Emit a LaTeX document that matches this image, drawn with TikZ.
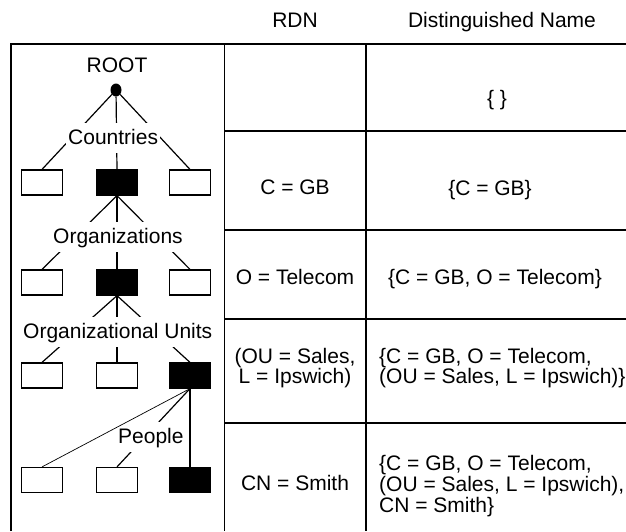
\documentclass[tikz,border=0pt]{standalone}
\usepackage{fontspec}
\setmainfont{Liberation Sans}
\usetikzlibrary{shapes.geometric}
\begin{document}
\begin{tikzpicture}  % ------ L'arbre des noms et le tableau ------------------
      [x=1pt,y=-1pt,font=\fontsize{21}{18.5}\selectfont,
       trait/.style={line width=1.2pt},
       feuille/.style={draw,line width=1.2pt,minimum width=41pt,minimum height=25pt,inner sep=0pt},
       noire/.style={feuille,fill=black},
       etiq/.style={fill=white,anchor=base west,inner xsep=2pt,inner ysep=6pt,text height=15pt,text depth=3pt},
       case/.style={inner sep=0pt,anchor=base}]
    \useasboundingbox (0,0) rectangle (626,531);
    \clip (0,0) rectangle (626,531);
    % le tableau
    \draw [trait] (11,531)--(11,44)--(640,44);
    \draw [trait] (224.5,44)--(224.5,531);
    \draw [trait] (366,44)--(366,531);
    \draw [trait] (224.5,131)--(640,131);
    \draw [trait] (224.5,230)--(640,230);
    \draw [trait] (224.5,319)--(640,319);
    \draw [trait] (224.5,423)--(640,423);
    \node [case] (tRDN) at (295,27.5) {RDN};
    \node [case] (tDN) at (502,27.5) {Distinguished Name};
    \node [case] (dnVide) at (497,105.5) {\{ \}};
    \node [case] (rdnC) at (295,194.5) {C = GB};
    \node [case] (dnC) at (490,195.5) {\{C = GB\}};
    \node [case] (rdnO) at (295,284.5) {O = Telecom};
    \node [case] (dnO) at (495,284.5) {\{C = GB, O = Telecom\}};
    \node [inner sep=0pt,align=center] (rdnOU) at (295,368) {(OU = Sales,\\L = Ipswich)};
    \node [inner sep=0pt,align=left,anchor=west] (dnOU) at (379,368) {\{C = GB, O = Telecom,\\(OU = Sales, L = Ipswich)\}};
    \node [case] (rdnCN) at (295,490.5) {CN = Smith};
    \node [inner sep=0pt,align=left,anchor=west] (dnCN) at (379,486) {\{C = GB, O = Telecom,\\(OU = Sales, L = Ipswich),\\CN = Smith\}};
    % l'arbre
    \node [case] (tRoot) at (117,72.5) {ROOT};
    \node [ellipse,fill=black,inner sep=0pt,minimum width=11pt,minimum height=13pt] (racine) at (116,90) {};
    \node [feuille] (pays1) at (42,182.5) {};
    \node [noire] (pays2) at (117,182.5) {};
    \node [feuille] (pays3) at (190,182.5) {};
    \node [feuille] (org1) at (42,282.5) {};
    \node [noire] (org2) at (117,282.5) {};
    \node [feuille] (org3) at (190,282.5) {};
    \node [feuille] (ou1) at (42,375.5) {};
    \node [feuille] (ou2) at (117,375.5) {};
    \node [noire] (ou3) at (190,375.5) {};
    \node [feuille] (pers1) at (42,480) {};
    \node [feuille] (pers2) at (117,480) {};
    \node [noire] (pers3) at (190,480) {};
    \draw [trait] (racine)--(pays1.north);
    \draw [trait] (racine)--(pays2.north);
    \draw [trait] (racine)--(pays3.north);
    \draw [trait] (pays2.south)--(org1.north);
    \draw [trait] (pays2.south)--(org2.north);
    \draw [trait] (pays2.south)--(org3.north);
    \draw [trait] (org2.south)--(ou1.north);
    \draw [trait] (org2.south)--(ou2.north);
    \draw [trait] (org2.south)--(ou3.north);
    \draw [trait] (ou3.south)--(pers2.north);
    \draw [trait] (ou3.south)--(pers3.north);
    \node [etiq] (tPays) at (66,144) {Countries\hspace{16pt}};
    \node [etiq] (tOrg) at (51,243) {Organizations\hspace{16pt}};
    \node [etiq] (tOU) at (21,338) {Organizational Units\hspace{16pt}};
    \node [etiq] (tPers) at (116,443) {People\hspace{16pt}};
    \draw [line width=0.7pt] (ou3.south)--(pers1.north);
\end{tikzpicture}
\end{document}
